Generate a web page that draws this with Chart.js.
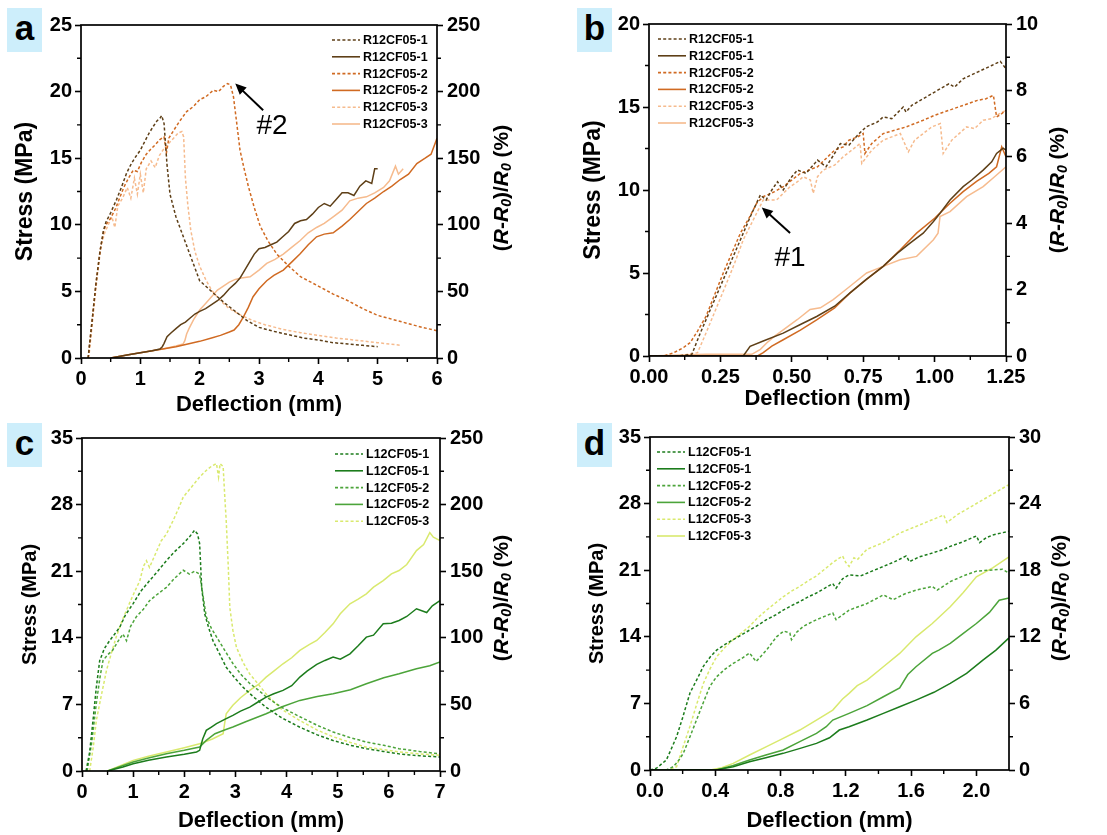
<!DOCTYPE html>
<html>
<head>
<meta charset="utf-8">
<script src="https://cdn.jsdelivr.net/npm/chart.js@4.4.1/dist/chart.umd.min.js"></script>
<style>
  body { margin:0; background:#fff; width:1107px; height:835px; position:relative; overflow:hidden; font-family:"Liberation Sans", Arial, sans-serif; }
  canvas { position:absolute; }
  .tag { position:absolute; width:35px; height:44px; background:#cdeefb; font:bold 35px "Liberation Sans", Arial, sans-serif; text-align:center; line-height:40px; color:#000; }
</style>
</head>
<body>
<canvas id="ca" width="553" height="418" style="left:0;top:0"></canvas>
<canvas id="cb" width="554" height="418" style="left:553px;top:0"></canvas>
<canvas id="cc" width="553" height="417" style="left:0;top:418px"></canvas>
<canvas id="cd" width="554" height="417" style="left:553px;top:418px"></canvas>
<div class="tag" style="left:7px;top:8px">a</div>
<div class="tag" style="left:577px;top:8px">b</div>
<div class="tag" style="left:7px;top:423px">c</div>
<div class="tag" style="left:577px;top:423px">d</div>
<script>
// ---- panel a : R12CF05, full range ----
const aS1x = [0.12,0.18,0.25,0.32,0.38,0.42,0.5,0.6,0.68,0.77,0.85,0.92,1.0,1.08,1.15,1.22,1.28,1.33,1.36,1.4,1.45,1.5,1.6,1.7,1.8,1.9,2.0,2.2,2.4,2.6,2.8,3.0,3.25,3.5,3.75,4.0,4.25,4.5,4.75,5.0];
const aS1y = [0,2.5,5.5,8.0,9.6,10.2,10.9,11.9,12.8,13.9,14.6,15.1,15.6,16.3,16.9,17.4,17.8,18.0,18.2,17.6,14.5,12.3,10.6,9.4,8.2,7.0,5.8,5.0,4.2,3.5,2.8,2.3,2.0,1.75,1.5,1.35,1.15,1.05,0.95,0.85];
const aS2x = [0.12,0.18,0.25,0.32,0.38,0.42,0.5,0.58,0.65,0.72,0.8,0.88,0.95,1.02,1.1,1.16,1.25,1.33,1.4,1.44,1.48,1.55,1.65,1.78,1.9,2.0,2.1,2.23,2.32,2.4,2.47,2.52,2.57,2.62,2.68,2.75,2.82,2.92,3.02,3.15,3.3,3.5,3.7,4.0,4.25,4.5,4.75,5.0,5.25,5.5,5.75,6.0];
const aS2y = [0,2.5,5.5,8.0,9.5,10.0,10.5,11.2,12.0,12.8,13.5,14.1,14.0,14.7,15.3,15.6,16.0,16.4,16.6,15.4,16.5,17.0,17.7,18.5,18.9,19.4,19.6,20.1,20.0,20.4,20.6,20.5,19.6,17.8,15.6,14.2,12.9,11.3,9.9,8.8,7.8,6.9,6.1,5.4,4.8,4.3,3.7,3.2,2.9,2.6,2.3,2.05];
const aS3x = [0.13,0.2,0.27,0.34,0.4,0.46,0.52,0.57,0.62,0.7,0.78,0.84,0.9,0.95,1.0,1.05,1.1,1.18,1.25,1.32,1.38,1.45,1.52,1.58,1.64,1.7,1.73,1.76,1.8,1.85,1.92,2.0,2.1,2.2,2.35,2.5,2.7,2.9,3.1,3.4,3.7,4.0,4.3,4.6,5.0,5.4];
const aS3y = [0,3.0,6.0,8.5,9.4,10.0,10.6,9.8,11.4,12.0,12.8,12.0,13.5,12.3,13.8,12.4,14.2,14.8,14.3,15.2,15.6,16.0,16.3,16.6,16.9,17.0,16.6,13.5,11.5,9.6,8.0,6.9,5.9,5.1,4.3,3.7,3.2,2.8,2.5,2.15,1.9,1.7,1.5,1.35,1.15,0.95];
const aR1x = [0.5,0.8,1.0,1.2,1.33,1.37,1.4,1.45,1.52,1.6,1.68,1.76,1.84,1.92,2.0,2.1,2.2,2.3,2.4,2.5,2.6,2.68,2.76,2.84,2.92,3.0,3.1,3.2,3.3,3.4,3.5,3.6,3.7,3.8,3.9,4.0,4.1,4.2,4.3,4.4,4.5,4.6,4.7,4.8,4.9,4.95,5.0];
const aR1y = [0,2.5,4.0,5.5,6.8,8.5,11,16,19,22,25,27,30,33,35,37,40,43,47,52,56,60,66,72,78,82,83,85,87,91,95,101,103,104,108,113,116,114,119,124,124,122,129,133,131,142,142];
const aR2x = [0.5,0.8,1.0,1.2,1.4,1.6,1.8,2.0,2.2,2.35,2.5,2.58,2.66,2.74,2.82,2.9,3.0,3.13,3.25,3.41,3.55,3.69,3.83,3.97,4.1,4.25,4.4,4.53,4.67,4.81,4.95,5.1,5.24,5.38,5.52,5.66,5.8,5.9,6.0];
const aR2y = [0,2.5,4.0,5.5,7,8.5,10.5,12.5,15,17,19.5,21,25,31,38,46,52,58,62,66,72,78,85,91,93,94,99,104,110,116,120,125,129,134,138,146,150,153,165];
const aR3x = [0.5,0.8,1.0,1.2,1.4,1.6,1.72,1.75,1.78,1.82,1.9,2.0,2.1,2.2,2.3,2.4,2.5,2.6,2.7,2.85,3.0,3.13,3.27,3.41,3.55,3.69,3.83,3.97,4.1,4.25,4.4,4.53,4.67,4.81,4.95,5.1,5.2,5.3,5.35,5.43];
const aR3y = [0,2.5,4.0,5.5,7,9,10.5,13,18,22,29,36,41,46,51,54,57,59,60,61,66,71,74,78,83,88,94,98,101,106,111,118,120,121,124,128,133,144,138,142];

// ---- panel b : R12CF05, early range ----
const bS1x = [0,0.05,0.1,0.15,0.18,0.21,0.24,0.27,0.3,0.33,0.36,0.39,0.41,0.43,0.45,0.47,0.5,0.52,0.55,0.59,0.62,0.65,0.67,0.7,0.73,0.76,0.8,0.82,0.85,0.89,0.9,0.92,0.95,1.0,1.05,1.07,1.1,1.15,1.2,1.23,1.25];
const bS1y = [0,0,0,0.1,1.4,2.6,3.8,5.0,6.2,7.4,8.6,9.7,9.4,10.0,10.5,10.0,10.8,11.2,11.0,11.8,11.4,12.2,12.8,12.7,13.3,13.8,14.1,14.4,14.3,15.0,14.7,15.1,15.4,15.9,16.4,16.2,16.7,17.1,17.5,17.75,17.3];
const bS2x = [0,0.05,0.085,0.12,0.144,0.17,0.2,0.23,0.26,0.29,0.32,0.35,0.377,0.4,0.44,0.47,0.5,0.53,0.56,0.59,0.62,0.65,0.68,0.7,0.73,0.75,0.756,0.78,0.82,0.86,0.9,0.96,1.0,1.05,1.1,1.15,1.18,1.206,1.217,1.235,1.25];
const bS2y = [0,0,0.18,0.5,0.8,1.5,2.4,3.7,5.0,6.2,7.4,8.3,9.2,9.6,9.9,10.2,10.6,11.0,11.2,11.4,11.9,12.4,12.6,13.0,13.2,13.4,12.2,12.8,13.4,13.6,13.8,14.2,14.5,14.8,15.1,15.4,15.5,15.7,14.4,14.6,14.8];
const bS3x = [0,0.1,0.17,0.2,0.236,0.272,0.3,0.33,0.365,0.4,0.447,0.47,0.494,0.52,0.54,0.565,0.575,0.59,0.61,0.65,0.68,0.71,0.739,0.745,0.78,0.82,0.85,0.88,0.908,0.93,0.96,0.99,1.02,1.03,1.06,1.112,1.14,1.17,1.2,1.217,1.25];
const bS3y = [0,0,0.2,1.4,2.9,4.4,5.6,7.0,8.2,9.4,9.4,9.8,10.2,10.5,10.8,10.6,9.8,10.8,11.2,11.5,12.0,12.4,12.8,11.6,12.4,13.0,13.2,13.4,12.3,13.0,13.4,13.8,14.0,12.2,13.0,13.8,13.7,14.2,14.3,14.5,14.8];
const bR1x = [0,0.2,0.33,0.354,0.4,0.47,0.53,0.587,0.65,0.704,0.76,0.82,0.87,0.914,0.96,0.996,1.019,1.054,1.1,1.13,1.17,1.2,1.217,1.24,1.25];
const bR1y = [0,0,0,0.29,0.45,0.69,0.95,1.19,1.5,1.9,2.3,2.7,3.1,3.4,3.7,4.05,4.3,4.7,5.1,5.3,5.6,5.85,6.1,6.26,6.2];
const bR2x = [0,0.2,0.38,0.4,0.43,0.47,0.53,0.587,0.65,0.704,0.76,0.82,0.88,0.937,1.0,1.054,1.1,1.147,1.19,1.217,1.235,1.25];
const bR2y = [0,0,0,0.1,0.3,0.49,0.78,1.09,1.45,1.9,2.3,2.7,3.2,3.7,4.15,4.6,4.95,5.26,5.5,5.7,6.3,6.0];
const bR3x = [0,0.2,0.36,0.39,0.412,0.44,0.47,0.52,0.564,0.6,0.645,0.704,0.762,0.82,0.879,0.937,0.996,1.012,1.019,1.054,1.112,1.17,1.21,1.25];
const bR3y = [0,0.05,0.05,0.2,0.39,0.6,0.79,1.1,1.4,1.45,1.7,2.1,2.5,2.7,2.9,3.0,3.5,3.7,4.2,4.35,4.8,5.1,5.4,5.7];

// ---- panel c : L12CF05, full range ----
const cS1x = [0.08,0.15,0.215,0.28,0.346,0.44,0.54,0.64,0.737,0.85,1.0,1.15,1.32,1.48,1.65,1.8,1.98,2.1,2.2,2.26,2.3,2.34,2.4,2.48,2.56,2.7,2.82,3.0,3.15,3.35,3.6,3.9,4.26,4.6,4.91,5.25,5.56,5.9,6.2,6.6,7.0];
const cS1y = [0,2.0,5.3,8.8,11.6,12.9,13.7,14.4,15.1,16.4,17.6,18.9,20.0,21.0,22.1,23.0,23.9,24.6,25.3,24.9,23.9,19.3,16.5,15.0,13.7,12.2,10.9,9.7,8.8,7.8,6.7,5.6,4.6,3.8,3.2,2.7,2.35,2.05,1.8,1.6,1.47];
const cS2x = [0.1,0.19,0.28,0.35,0.41,0.5,0.6,0.7,0.8,0.87,0.95,1.06,1.2,1.32,1.48,1.65,1.8,1.98,2.1,2.2,2.3,2.37,2.43,2.53,2.63,2.8,2.95,3.1,3.28,3.45,3.6,3.9,4.26,4.6,4.91,5.25,5.56,5.9,6.2,6.6,7.0];
const cS2y = [0,3.0,7.1,9.8,11.6,12.2,12.7,13.6,14.4,13.7,15.2,16.2,17.0,17.9,18.6,19.3,20.2,21.1,20.7,21.0,20.7,18.3,16.2,15.0,14.1,12.6,11.3,10.2,9.2,8.5,7.8,6.7,5.7,4.8,4.1,3.5,3.05,2.7,2.35,2.05,1.8];
const cS3x = [0.15,0.22,0.28,0.38,0.48,0.58,0.67,0.77,0.87,1.0,1.13,1.2,1.26,1.32,1.45,1.55,1.65,1.78,1.88,1.98,2.15,2.3,2.45,2.55,2.63,2.67,2.7,2.76,2.79,2.82,2.86,2.89,2.95,3.02,3.15,3.28,3.45,3.6,3.9,4.26,4.6,4.91,5.25,5.56,5.9,6.2,6.6,7.0];
const cS3y = [0,2.5,5.3,8.0,10.6,12.5,14.1,15.6,16.9,18.5,20.0,21.5,22.1,21.4,23.0,24.2,24.9,26.3,27.5,28.8,29.9,30.9,31.7,32.1,32.3,30.9,32.3,32.0,29.0,26.3,21.5,17.2,14.8,13.0,11.4,10.2,9.1,8.1,6.5,5.3,4.3,3.6,3.0,2.5,2.25,2.0,1.8,1.65];
const cR1x = [0.5,0.8,1.0,1.3,1.65,2.0,2.24,2.3,2.36,2.43,2.53,2.63,2.8,2.95,3.1,3.28,3.45,3.6,3.75,3.93,4.1,4.26,4.4,4.59,4.75,4.91,5.05,5.24,5.4,5.56,5.7,5.89,6.05,6.2,6.35,6.54,6.74,6.85,7.0];
const cR1y = [0,3,5.5,8,10.5,12.5,14.3,15.5,24,30.5,33,35.5,39,41.8,45,48,52,55.5,58,60.5,64,70.5,75,80,83,85.5,84,88,94,100.5,102,110.5,111,113,116,121.8,119,124,128];
const cR2x = [0.5,1.0,1.3,1.65,2.0,2.3,2.43,2.6,2.8,2.95,3.2,3.4,3.6,3.9,4.26,4.6,4.91,5.25,5.56,5.9,6.2,6.54,6.8,7.0];
const cR2y = [0,6.75,9.8,13,15.5,18,23,28,31,33,37,40,43,48,53,56,58,61,65.5,70,73,76.8,79,81.8];
const cR3x = [0.5,1.0,1.3,1.65,2.0,2.3,2.55,2.76,2.79,2.82,2.88,2.95,3.1,3.28,3.45,3.6,3.75,3.93,4.1,4.26,4.45,4.59,4.75,4.91,5.05,5.24,5.4,5.56,5.7,5.89,6.05,6.2,6.35,6.54,6.68,6.8,6.87,7.0];
const cR3y = [0,8,11,14.3,17.5,20.5,24,28,36,43,46,49.3,55,60.5,65,70.5,75,80.5,85,90.5,95,98,104,110.5,118,125.5,129,133,138,143,148,150.5,155,165.5,170,179,175.5,173];

// ---- panel d : L12CF05, early range ----
const dS1x = [0,0.04,0.1,0.13,0.163,0.2,0.245,0.29,0.327,0.37,0.408,0.46,0.51,0.56,0.61,0.66,0.714,0.77,0.816,0.87,0.918,0.97,1.02,1.07,1.12,1.14,1.18,1.22,1.29,1.36,1.43,1.5,1.57,1.59,1.65,1.73,1.8,1.84,1.92,2.0,2.02,2.06,2.1,2.15,2.2];
const dS1y = [0,0.2,1.05,2.2,3.5,5.5,8.1,9.6,10.9,11.9,12.6,13.2,13.7,14.2,14.7,15.2,15.8,16.3,16.8,17.3,17.7,18.2,18.6,19.1,19.6,19.1,20.1,20.5,20.4,20.9,21.4,21.9,22.5,21.9,22.4,22.8,23.2,23.5,24.0,24.6,23.9,24.4,24.7,24.9,25.1];
const dS2x = [0,0.1,0.143,0.175,0.204,0.245,0.286,0.327,0.367,0.408,0.46,0.51,0.56,0.61,0.65,0.714,0.775,0.82,0.857,0.867,0.9,0.94,1.02,1.12,1.14,1.22,1.33,1.43,1.49,1.56,1.63,1.73,1.76,1.84,1.92,2.0,2.08,2.16,2.2];
const dS2y = [0,0,0.35,1.0,1.75,3.5,5.3,7.1,8.8,9.8,10.6,11.2,11.7,12.3,11.4,12.6,14.0,14.6,14.4,13.7,14.5,15.1,15.8,16.5,15.8,16.8,17.5,18.4,17.9,18.5,18.9,19.3,18.9,19.8,20.4,20.9,21.0,21.1,20.7];
const dS3x = [0,0.12,0.163,0.2,0.245,0.286,0.327,0.367,0.408,0.46,0.51,0.56,0.61,0.66,0.714,0.765,0.816,0.867,0.918,0.97,1.02,1.07,1.12,1.18,1.2,1.22,1.25,1.27,1.33,1.43,1.53,1.63,1.73,1.8,1.82,1.88,1.94,2.04,2.12,2.2];
const dS3y = [0,0,0.35,2.3,4.6,6.9,9.1,10.6,11.9,12.9,13.7,14.4,15.1,16.0,16.8,17.5,18.2,18.8,19.3,19.9,20.4,21.1,21.8,22.5,21.8,21.4,22.3,22.1,23.2,23.9,24.9,25.6,26.3,26.8,26.0,26.8,27.4,28.4,29.2,30.0];
const dR1x = [0,0.4,0.51,0.61,0.71,0.816,0.92,1.02,1.1,1.16,1.22,1.33,1.43,1.53,1.63,1.74,1.84,1.94,2.04,2.12,2.2];
const dR1y = [0,0,0.3,0.75,1.1,1.5,1.95,2.4,2.9,3.6,3.9,4.5,5.1,5.7,6.3,7.0,7.8,8.7,9.9,10.8,11.9];
const dR2x = [0,0.41,0.51,0.61,0.71,0.816,0.918,1.02,1.08,1.12,1.22,1.33,1.43,1.53,1.58,1.63,1.73,1.77,1.84,1.92,2.0,2.08,2.14,2.2];
const dR2y = [0,0,0.4,0.9,1.35,1.8,2.55,3.3,3.9,4.5,5.1,5.8,6.6,7.4,8.6,9.3,10.5,10.8,11.4,12.3,13.2,14.2,15.3,15.5];
const dR3x = [0,0.37,0.44,0.51,0.61,0.714,0.816,0.918,1.02,1.12,1.18,1.22,1.27,1.33,1.43,1.53,1.63,1.73,1.84,1.92,2.0,2.1,2.2];
const dR3y = [0,0,0.2,0.6,1.35,2.1,2.85,3.6,4.5,5.4,6.4,6.9,7.6,8.1,9.3,10.5,12.0,13.2,14.7,16.0,17.4,18.2,19.2];

// ---- names, colours, axes ----
const rNames = ['R12CF05-1','R12CF05-2','R12CF05-3'];
const lNames = ['L12CF05-1','L12CF05-2','L12CF05-3'];
const rColors = ['#5e3f17','#d06a22','#f6bb8e'];
const lColors = ['#1c7c1c','#4ca43a','#d9e96e'];

const xTitle = 'Deflection (mm)';
const yTitle = 'Stress (MPa)';

Chart.defaults.font.family = '"Liberation Sans", Arial, sans-serif';
Chart.defaults.color = '#000';

const pts = (xs, ys) => xs.map((x, i) => ({x: x, y: ys[i]}));

function series(names, colors, sets) {
    // sets: [[sx, sy, rx, ry, hideInLegend], ...]
    const out = [];
    sets.forEach((s, i) => {
        out.push({label: names[i], data: pts(s[0], s[1]), yAxisID: 'y', borderColor: colors[i], borderDash: [3, 2.2], dash: true});
        if (s[2]) out.push({label: names[i], data: pts(s[2], s[3]), yAxisID: 'y2', borderColor: colors[i], noLegend: s[4]});
    });
    return out;
}

const decor = {
    id: 'decor',
    afterDraw(chart, args, o) {
        const ctx = chart.ctx, a = chart.chartArea;
        ctx.save();
        ctx.strokeStyle = '#000';
        ctx.lineWidth = 1.7;
        ctx.strokeRect(a.left, a.top, a.right - a.left, a.bottom - a.top);

        // minor ticks halfway between the labelled ones
        ctx.lineWidth = 1.4;
        ctx.beginPath();
        ['x', 'y', 'y2'].forEach(id => {
            const s = chart.scales[id], t = s.ticks;
            for (let i = 0; i < t.length - 1; i++) {
                const p = s.getPixelForValue((t[i].value + t[i + 1].value) / 2);
                if (id === 'x') { ctx.moveTo(p, a.bottom); ctx.lineTo(p, a.bottom + 4); }
                else if (id === 'y') { ctx.moveTo(a.left, p); ctx.lineTo(a.left - 4, p); }
                else { ctx.moveTo(a.right, p); ctx.lineTo(a.right + 4, p); }
            }
        });
        ctx.stroke();

        // legend
        const lg = o.legend;
        let row = 0;
        ctx.font = 'bold 12.5px "Liberation Sans", Arial';
        ctx.textBaseline = 'middle';
        ctx.fillStyle = '#000';
        chart.data.datasets.forEach(ds => {
            if (ds.noLegend) return;
            const y = lg.y + row * 16.8;
            ctx.strokeStyle = ds.borderColor;
            ctx.lineWidth = 1.6;
            ctx.setLineDash(ds.dash ? [3, 2.2] : []);
            ctx.beginPath();
            ctx.moveTo(lg.x, y);
            ctx.lineTo(lg.x + 28, y);
            ctx.stroke();
            ctx.setLineDash([]);
            ctx.fillText(ds.label, lg.x + 31, y + 0.5);
            row++;
        });

        // right axis title: (R-R0)/R0 (%)
        const rt = o.rTitle;
        const big = 'bold 21px "Liberation Sans", Arial', bigI = 'italic bold 21px "Liberation Sans", Arial';
        const subI = 'italic bold 14px "Liberation Sans", Arial';
        const parts = [['(', big, 0], ['R', bigI, 0], ['-', big, 0], ['R', bigI, 0], ['0', subI, 5],
                       [')/', big, 0], ['R', bigI, 0], ['0', subI, 5], [' (%)', big, 0]];
        let total = 0;
        parts.forEach(p => { ctx.font = p[1]; total += ctx.measureText(p[0]).width; });
        ctx.translate(rt.x, rt.y);
        ctx.rotate(-Math.PI / 2);
        let cx = -total / 2;
        ctx.textBaseline = 'middle';
        parts.forEach(p => {
            ctx.font = p[1];
            ctx.fillText(p[0], cx, p[2]);
            cx += ctx.measureText(p[0]).width;
        });
        ctx.setTransform(1, 0, 0, 1, 0, 0);

        // arrow note (#1 / #2)
        const n = o.note;
        if (n) {
            const sx = chart.scales.x, sy = chart.scales.y;
            const x1 = sx.getPixelForValue(n.from[0]), y1 = sy.getPixelForValue(n.from[1]);
            const x2 = sx.getPixelForValue(n.to[0]), y2 = sy.getPixelForValue(n.to[1]);
            const ang = Math.atan2(y2 - y1, x2 - x1);
            ctx.strokeStyle = '#000';
            ctx.fillStyle = '#000';
            ctx.lineWidth = 2;
            ctx.beginPath();
            ctx.moveTo(x1, y1);
            ctx.lineTo(x2 - 8 * Math.cos(ang), y2 - 8 * Math.sin(ang));
            ctx.stroke();
            ctx.beginPath();
            ctx.moveTo(x2, y2);
            ctx.lineTo(x2 - 11 * Math.cos(ang) + 5 * Math.sin(ang), y2 - 11 * Math.sin(ang) - 5 * Math.cos(ang));
            ctx.lineTo(x2 - 11 * Math.cos(ang) - 5 * Math.sin(ang), y2 - 11 * Math.sin(ang) + 5 * Math.cos(ang));
            ctx.closePath();
            ctx.fill();
            ctx.font = '28px "Liberation Sans", Arial';
            ctx.textAlign = 'center';
            ctx.textBaseline = 'middle';
            ctx.fillText(n.text, sx.getPixelForValue(n.at[0]), sy.getPixelForValue(n.at[1]));
        }
        ctx.restore();
    }
};

function axisBase(side) {
    return {
        grid: {drawOnChartArea: false, drawTicks: true, tickLength: 6, tickWidth: 1.6, tickColor: '#000'},
        border: {display: false},
        ticks: {color: '#000', font: {size: 20, weight: 'bold'}, padding: side === 'right' ? 4 : 3, autoSkip: false, maxRotation: 0}
    };
}

function makePanel(id, p) {
    const x = axisBase('bottom');
    Object.assign(x, {type: 'linear', position: 'bottom', min: 0, max: p.xMax,
        title: {display: true, text: xTitle, font: {size: 22, weight: 'bold'}, padding: {top: 0, bottom: p.xTitlePad}},
        afterFit: s => { s.height = p.H - p.area[3]; }});
    x.ticks.stepSize = p.xStep;
    x.ticks.callback = v => v.toFixed(p.xDec);
    if (p.xKeep) x.afterBuildTicks = s => { s.ticks = s.ticks.filter(t => Math.abs(t.value / p.xKeep - Math.round(t.value / p.xKeep)) < 1e-6); };

    const y = axisBase('left');
    Object.assign(y, {position: 'left', min: 0, max: p.yMax,
        title: {display: true, text: yTitle, font: {size: p.yTitleSize, weight: 'bold'}, padding: {top: p.yTitlePad, bottom: 0}},
        afterFit: s => { s.width = p.area[0]; }});
    y.ticks.stepSize = p.yStep;

    const y2 = axisBase('right');
    Object.assign(y2, {position: 'right', min: 0, max: p.rMax,
        afterFit: s => { s.width = p.W - p.area[1]; }});
    y2.ticks.stepSize = p.rStep;

    new Chart(document.getElementById(id), {
        type: 'line',
        data: {datasets: p.datasets},
        options: {
            responsive: false,
            animation: false,
            layout: {padding: {top: p.area[2], left: 0, right: 0, bottom: 0}},
            elements: {line: {borderWidth: 1.5, tension: 0}, point: {radius: 0}},
            plugins: {legend: {display: false}, tooltip: {enabled: false},
                decor: {legend: p.legend, rTitle: p.rTitle, note: p.note}},
            scales: {x: x, y: y, y2: y2}
        },
        plugins: [decor]
    });
}

makePanel('ca', {
    W: 553, H: 418, area: [81, 437, 25, 358],
    xMax: 6, xStep: 1, xDec: 0, xTitlePad: 0,
    yMax: 25, yStep: 5, yTitleSize: 23, yTitlePad: 12,
    rMax: 250, rStep: 50,
    legend: {x: 332, y: 40}, rTitle: {x: 502, y: 188},
    note: {from: [3.07, 18.6], to: [2.6, 20.6], at: [3.22, 17.4], text: '#2'},
    datasets: series(rNames, rColors, [[aS1x, aS1y, aR1x, aR1y], [aS2x, aS2y, aR2x, aR2y], [aS3x, aS3y, aR3x, aR3y]])
});

makePanel('cb', {
    W: 554, H: 418, area: [96, 453, 24, 356],
    xMax: 1.25, xStep: 0.25, xDec: 2, xTitlePad: 6,
    yMax: 20, yStep: 5, yTitleSize: 23, yTitlePad: 27,
    rMax: 10, rStep: 2,
    legend: {x: 105, y: 39}, rTitle: {x: 505, y: 190},
    note: {from: [0.494, 7.41], to: [0.395, 8.95], at: [0.494, 5.9], text: '#1'},
    datasets: series(rNames, rColors, [[bS1x, bS1y, bR1x, bR1y], [bS2x, bS2y, bR2x, bR2y], [bS3x, bS3y, bR3x, bR3y]])
});

makePanel('cc', {
    W: 553, H: 417, area: [82, 440, 20, 353],
    xMax: 7, xStep: 1, xDec: 0, xTitlePad: 1,
    yMax: 35, yStep: 7, yTitleSize: 20, yTitlePad: 18,
    rMax: 250, rStep: 50,
    legend: {x: 335, y: 36}, rTitle: {x: 502, y: 180},
    datasets: series(lNames, lColors, [[cS1x, cS1y, cR1x, cR1y], [cS2x, cS2y, cR2x, cR2y], [cS3x, cS3y, cR3x, cR3y, true]])
});

makePanel('cd', {
    W: 554, H: 417, area: [97, 456, 19, 352],
    xMax: 2.2, xStep: 0.2, xDec: 1, xKeep: 0.4, xTitlePad: 1,
    yMax: 35, yStep: 7, yTitleSize: 20, yTitlePad: 32,
    rMax: 30, rStep: 6,
    legend: {x: 104, y: 34}, rTitle: {x: 507, y: 180},
    datasets: series(lNames, lColors, [[dS1x, dS1y, dR1x, dR1y], [dS2x, dS2y, dR2x, dR2y], [dS3x, dS3y, dR3x, dR3y]])
});
</script>
</body>
</html>
